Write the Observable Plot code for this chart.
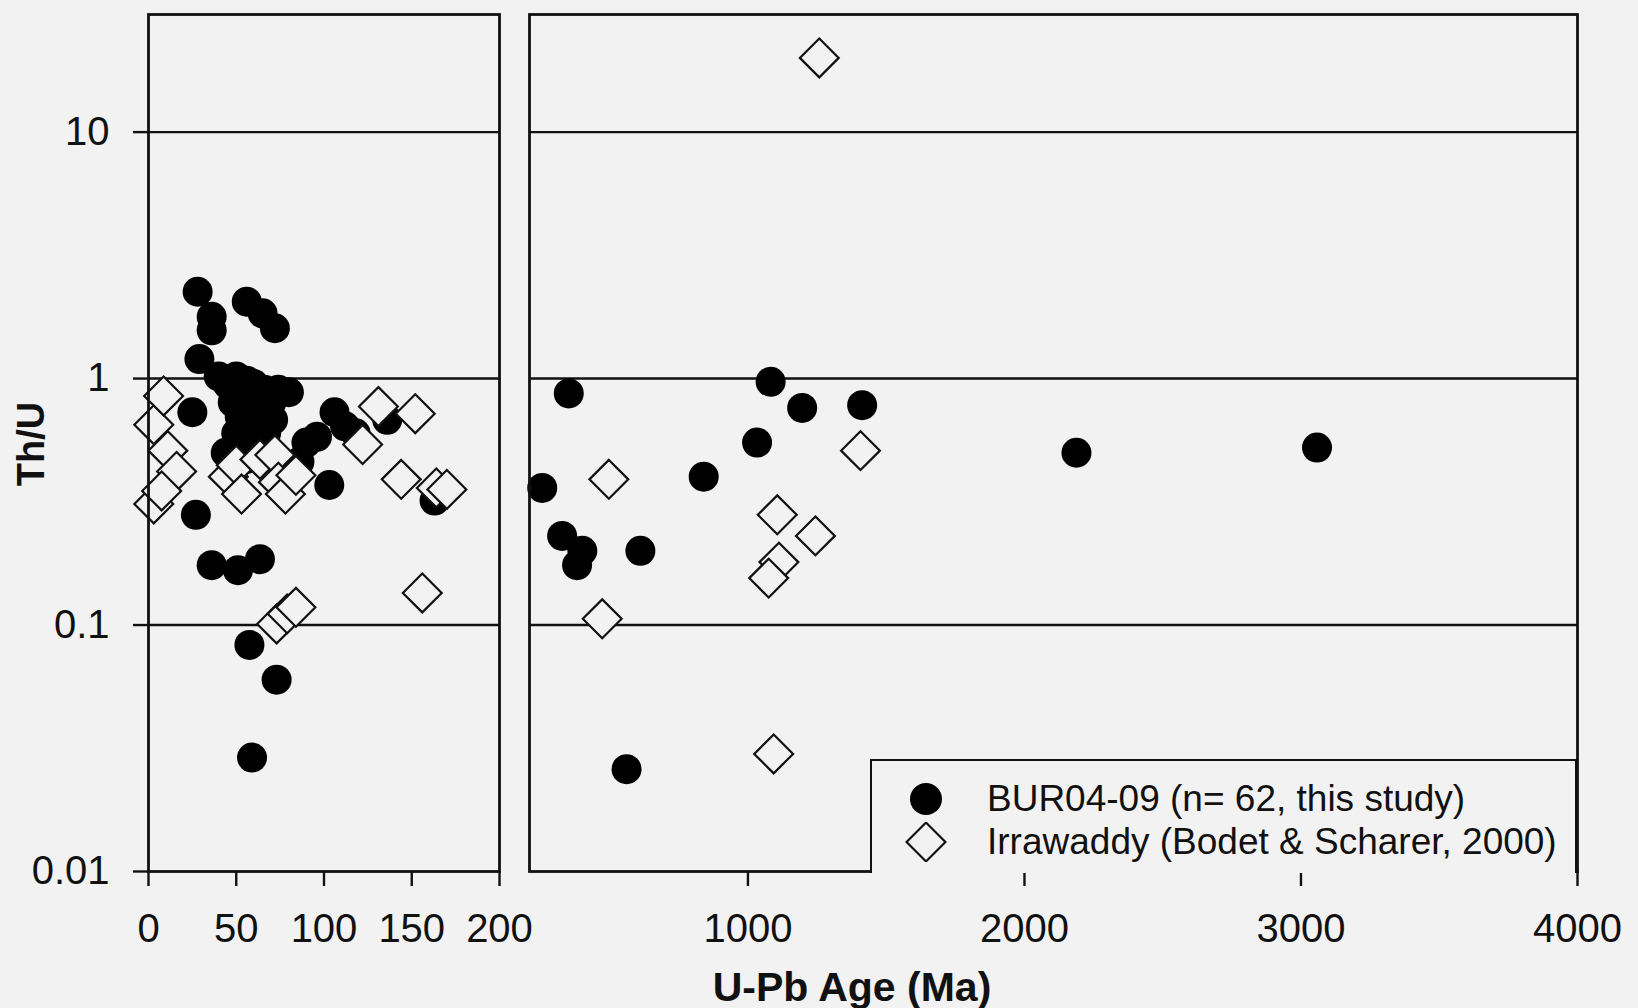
<!DOCTYPE html>
<html>
<head>
<meta charset="utf-8">
<script src="https://cdn.jsdelivr.net/npm/d3@7"></script>
<script src="https://cdn.jsdelivr.net/npm/@observablehq/plot@0.6"></script>
<style>
  html, body { margin: 0; padding: 0; background: #f2f2f2; }
  #wrap { position: relative; width: 1638px; height: 1008px; overflow: hidden;
          font-family: "Liberation Sans", Arial, sans-serif; color: #111; background: #f2f2f2; }
  #wrap svg.plot { position: absolute; top: 0; }
  .title { position: absolute; font-weight: bold; white-space: nowrap; }
  #xtitle { left: 852px; top: 987px; font-size: 41px; transform: translate(-50%, -50%); }
  #ytitle { left: 31px; top: 444px; font-size: 38px; transform: translate(-50%, -50%) rotate(-90deg); }
  #legend { position: absolute; left: 870px; top: 759px; width: 707px; height: 114px;
            box-sizing: border-box; border: 2px solid #111; border-bottom: none; background: #f2f2f2; }
  #legend .row { position: absolute; left: 0; height: 40px; }
  #legend .row svg { position: absolute; left: 32px; top: 0; }
  #legend .row span { position: absolute; left: 115px; top: 0; font-size: 37px; white-space: nowrap; line-height: 40px; }
</style>
</head>
<body>
<div id="wrap"></div>
<script>
// ---- data ----
// BUR04-09 (this study), filled circles
const burAge = [28, 36, 36, 56, 65, 72, 29, 25, 27, 36, 51, 63.5, 57.5, 73, 59, 103, 163, 106, 136,
  90, 96, 112, 118, 86,
  40, 45, 50, 53, 56, 60, 62, 66, 70, 74, 80, 48, 52, 56, 60, 65, 71, 50, 54, 58, 62, 67, 55, 44,
  256, 328, 352, 382, 401, 561, 611, 840, 1033, 1082, 1196, 1413, 2188, 3058];
const burThU = [2.25, 1.78, 1.57, 2.05, 1.84, 1.6, 1.2, 0.73, 0.28, 0.175, 0.167, 0.185, 0.083, 0.060, 0.029, 0.37, 0.32, 0.73, 0.68,
  0.55, 0.58, 0.64, 0.6, 0.46,
  1.02, 0.95, 1.02, 0.9, 0.98, 0.95, 0.86, 0.9, 0.8, 0.9, 0.88, 0.8, 0.7, 0.78, 0.68, 0.72, 0.68, 0.6, 0.55, 0.6, 0.52, 0.6, 0.47, 0.5,
  0.36, 0.23, 0.87, 0.175, 0.20, 0.026, 0.20, 0.40, 0.55, 0.97, 0.76, 0.78, 0.50, 0.525];
// Irrawaddy (Bodet & Scharer, 2000), open diamonds
const irrAge = [3, 8.6, 11, 16, 3, 7.5, 45.5, 50, 53, 63.5, 72, 74, 78, 84, 73, 79, 84, 122, 131, 152, 144, 164, 170, 156,
  497, 473, 1106, 1244, 1112, 1075, 1407, 1093, 1258];
const irrThU = [0.65, 0.85, 0.51, 0.42, 0.31, 0.35, 0.40, 0.445, 0.34, 0.47, 0.49, 0.38, 0.34, 0.405, 0.101, 0.111, 0.118, 0.54, 0.77, 0.72, 0.39, 0.36, 0.355, 0.135,
  0.39, 0.106, 0.28, 0.23, 0.18, 0.155, 0.51, 0.030, 20];

const leftXDomain = [0, 200];
const rightXDomain = [210, 4000];
const leftXTicks = [0, 50, 100, 150, 200];
const rightXTicks = [1000, 2000, 3000, 4000];
const yDomain = [0.01, 30];
const yTicks = [0.01, 0.1, 1, 10];
const gridValues = [0.1, 1, 10];
const seriesNames = ["BUR04-09 (n= 62, this study)", "Irrawaddy (Bodet & Scharer, 2000)"];
const xTitle = "U-Pb Age (Ma)";
const yTitle = "Th/U";

// ---- build tables ----
const bur = burAge.map((a, i) => ({age: a, thu: burThU[i]}));
const irr = irrAge.map((a, i) => ({age: a, thu: irrThU[i]}));
const split = 200;

const BG = "#f2f2f2", INK = "#111";
const font = "'Liberation Sans', Arial, sans-serif";
const R_CIRCLE = 15, R_DIAMOND = 17.5;

function panel({width, ml, mr, xDomain, xTicks, showY, burData, irrData}) {
  const marks = [
    Plot.ruleY(gridValues, {stroke: INK, strokeWidth: 2.4}),
    Plot.dot(burData, {x: "age", y: "thu", r: R_CIRCLE, fill: "#000", stroke: "none"}),
    Plot.dot(irrData, {x: "age", y: "thu", r: R_DIAMOND, symbol: "diamond2", fill: BG, stroke: INK, strokeWidth: 2.2}),
    Plot.frame({stroke: INK, strokeWidth: 2.8}),
    Plot.axisX({ticks: xTicks, tickSize: 15, tickPadding: 27, label: null, strokeWidth: 2.4, tickFormat: d => String(d)})
  ];
  if (showY) marks.push(Plot.axisY({ticks: yTicks, tickSize: 15, tickPadding: 24, label: null, strokeWidth: 2.4, tickFormat: d => String(d)}));
  else marks.push(Plot.axisY({ticks: [], label: null}));
  return Plot.plot({
    width, height: 1008,
    marginLeft: ml, marginRight: mr, marginTop: 14, marginBottom: 137,
    style: {background: "transparent", fontFamily: font, fontSize: "40px", color: INK, overflow: "visible"},
    x: {domain: xDomain},
    y: {type: "log", domain: yDomain},
    marks
  });
}

const wrap = document.getElementById("wrap");
const left = panel({width: 520, ml: 148, mr: 21, xDomain: leftXDomain, xTicks: leftXTicks, showY: true,
  burData: bur.filter(d => d.age <= split), irrData: irr.filter(d => d.age <= split)});
left.classList.add("plot");
left.style.left = "0px";
wrap.appendChild(left);

const right = panel({width: 1128, ml: 19, mr: 61, xDomain: rightXDomain, xTicks: rightXTicks, showY: false,
  burData: bur.filter(d => d.age > split), irrData: irr.filter(d => d.age > split)});
right.classList.add("plot");
right.style.left = "510px";
wrap.appendChild(right);

// axis titles
const xt = document.createElement("div"); xt.className = "title"; xt.id = "xtitle"; xt.textContent = xTitle; wrap.appendChild(xt);
const yt = document.createElement("div"); yt.className = "title"; yt.id = "ytitle"; yt.textContent = yTitle; wrap.appendChild(yt);

// legend
const legend = document.createElement("div"); legend.id = "legend";
const ns = "http://www.w3.org/2000/svg";
seriesNames.forEach((name, i) => {
  const row = document.createElement("div"); row.className = "row";
  row.style.top = (i === 0 ? 18 : 61) + "px";
  const s = document.createElementNS(ns, "svg");
  s.setAttribute("width", 44); s.setAttribute("height", 40);
  if (i === 0) {
    const c = document.createElementNS(ns, "circle");
    c.setAttribute("cx", 22); c.setAttribute("cy", 20); c.setAttribute("r", 16); c.setAttribute("fill", "#000");
    s.appendChild(c);
  } else {
    const p = document.createElementNS(ns, "path");
    p.setAttribute("d", d3.symbol(d3.symbolDiamond2, Math.PI * R_DIAMOND * R_DIAMOND)());
    p.setAttribute("transform", "translate(22,20)");
    p.setAttribute("fill", BG); p.setAttribute("stroke", INK); p.setAttribute("stroke-width", 2.2);
    s.appendChild(p);
  }
  row.appendChild(s);
  const t = document.createElement("span"); t.textContent = name; row.appendChild(t);
  legend.appendChild(row);
});
wrap.appendChild(legend);
</script>
</body>
</html>
